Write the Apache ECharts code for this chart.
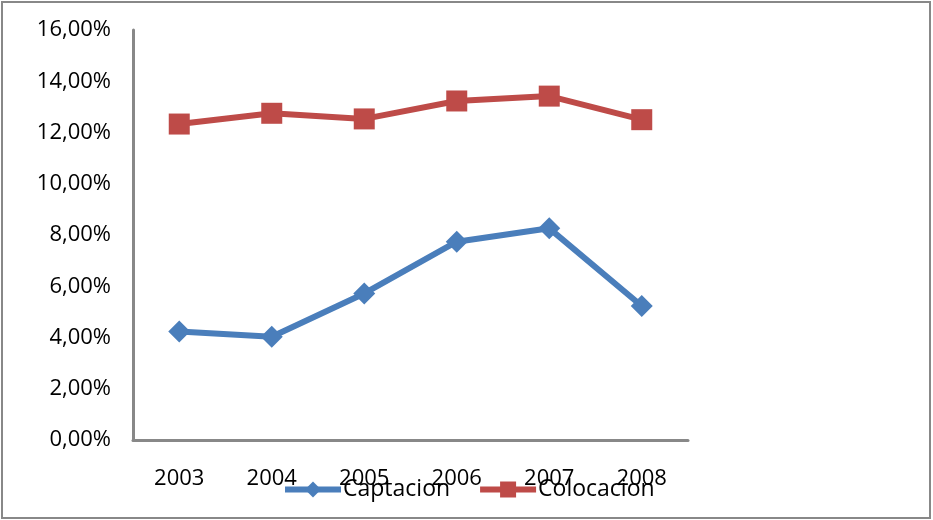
<!DOCTYPE html>
<html>
<head>
<meta charset="utf-8">
<script src="https://cdn.jsdelivr.net/npm/echarts@6/dist/echarts.min.js"></script>
<style>html,body{margin:0;padding:0;background:#fff}#c{width:933px;height:520px}</style>
</head>
<body>
<div id="c"></div>
<script>
const categories = ['2003', '2004', '2005', '2006', '2007', '2008'];
const captacion = [4.23, 4.03, 5.72, 7.74, 8.26, 5.23];
const colocacion = [12.33, 12.75, 12.53, 13.23, 13.42, 12.50];
const yTicks = [0, 2, 4, 6, 8, 10, 12, 14, 16];

const font = '"Open Sans", sans-serif';
const chart = echarts.init(document.getElementById('c'), null, {renderer: 'canvas'});
chart.setOption({
  animation: false,
  backgroundColor: '#fff',
  graphic: [{
    type: 'rect', shape: {x: 2, y: 2, width: 928, height: 516},
    style: {fill: 'none', stroke: '#888', lineWidth: 2}, silent: true
  }],
  grid: {left: 133, right: 245, top: 30, bottom: 80, containLabel: false},
  legend: {
    left: 282, top: 478, padding: 0, itemWidth: 56, itemHeight: 20, itemGap: 27,
    lineStyle: {width: 6},
    textStyle: {fontFamily: font, fontSize: 23, color: '#000', padding: [6, 0, 0, -3]},
    data: ['Captacion', 'Colocacion']
  },
  xAxis: {
    type: 'category', data: categories, boundaryGap: true,
    axisLine: {lineStyle: {color: '#888', width: 3}},
    axisTick: {show: false},
    axisLabel: {fontFamily: font, fontSize: 22, color: '#000', margin: 28}
  },
  yAxis: {
    type: 'value', min: yTicks[0], max: yTicks[yTicks.length - 1], interval: 2,
    axisLine: {show: true, lineStyle: {color: '#888', width: 3}},
    axisTick: {show: false},
    splitLine: {show: false},
    axisLabel: {
      fontFamily: font, fontSize: 22, color: '#000', margin: 22,
      formatter: v => v.toFixed(2).replace('.', ',') + '%'
    }
  },
  series: [
    {
      name: 'Captacion', type: 'line', data: captacion,
      symbol: 'diamond', symbolSize: 22,
      lineStyle: {color: '#4A7EBB', width: 6},
      itemStyle: {color: '#4A7EBB'}
    },
    {
      name: 'Colocacion', type: 'line', data: colocacion,
      symbol: 'rect', symbolSize: 21,
      lineStyle: {color: '#BE4B48', width: 6},
      itemStyle: {color: '#BE4B48'}
    }
  ]
});
</script>
</body>
</html>
